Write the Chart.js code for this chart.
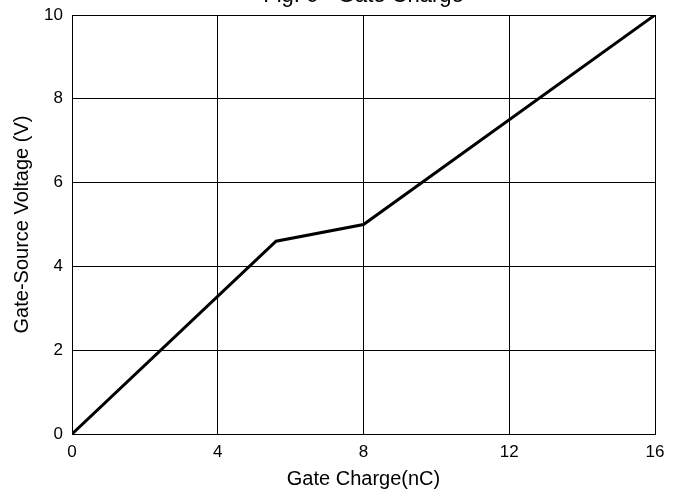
<!DOCTYPE html>
<html>
<head>
<meta charset="utf-8">
<script src="https://cdn.jsdelivr.net/npm/chart.js@4"></script>
<style>
  html, body { margin: 0; padding: 0; background: #fff; overflow: hidden; }
  #wrap { position: absolute; left: 0; top: -20px; width: 681px; height: 513px; }
</style>
</head>
<body>
<div id="wrap"><canvas id="chart"></canvas></div>
<script>
// Gate charge curve
const gateCharge = [0, 5.6, 8, 16];      // nC
const gateVoltage = [0, 4.6, 5.0, 10];   // V
const xTicks = [0, 4, 8, 12, 16];
const yTicks = [0, 2, 4, 6, 8, 10];

const fontFamily = '"Liberation Sans", Arial, sans-serif';

const ctx = document.getElementById('chart').getContext('2d');
new Chart(ctx, {
  type: 'line',
  data: {
    datasets: [{
      data: gateCharge.map((q, i) => ({ x: q, y: gateVoltage[i] })),
      borderColor: '#000',
      borderWidth: 3,
      pointRadius: 0,
      tension: 0,
      fill: false
    }]
  },
  options: {
    responsive: true,
    maintainAspectRatio: false,
    animation: false,
    layout: { padding: { left: 0, right: 26, top: 0, bottom: 0 } },
    plugins: {
      legend: { display: false },
      tooltip: { enabled: false },
      title: {
        display: true,
        text: 'Fig. 6 - Gate Charge',
        fullSize: false,
        color: '#000',
        font: { family: fontFamily, size: 22, weight: 'normal' },
        padding: { top: 2.8, bottom: 5.8 }
      }
    },
    scales: {
      x: {
        type: 'linear',
        min: 0,
        max: 16,
        afterBuildTicks: (s) => { s.ticks = xTicks.map(v => ({ value: v })); },
        afterFit: (s) => { s.height = 59; },
        grid: { color: '#000', lineWidth: 1, drawTicks: false },
        border: { color: '#000', width: 1 },
        ticks: { color: '#000', padding: 8, font: { family: fontFamily, size: 17 } },
        title: {
          display: true,
          text: 'Gate Charge(nC)',
          color: '#000',
          font: { family: fontFamily, size: 20 },
          padding: { top: 0, bottom: 2 }
        }
      },
      y: {
        min: 0,
        max: 10,
        afterBuildTicks: (s) => { s.ticks = yTicks.map(v => ({ value: v })); },
        afterFit: (s) => { s.width = 72; },
        grid: { color: '#000', lineWidth: 1, drawTicks: false },
        border: { color: '#000', width: 1 },
        ticks: { color: '#000', padding: 9, font: { family: fontFamily, size: 17 } },
        title: {
          display: true,
          text: 'Gate-Source Voltage (V)',
          color: '#000',
          font: { family: fontFamily, size: 20 },
          padding: { top: 10, bottom: 0 }
        }
      }
    }
  }
});
</script>
</body>
</html>
